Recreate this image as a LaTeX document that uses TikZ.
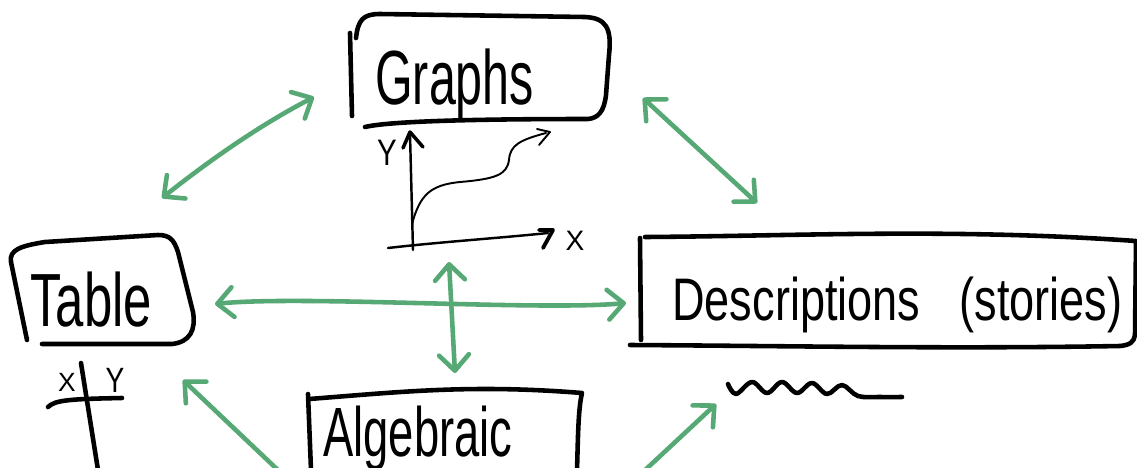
\documentclass[tikz,border=0pt]{standalone}
\usepackage{fontspec}
\usepackage{graphicx}
\setmainfont{Liberation Sans}
\usetikzlibrary{arrows.meta}
\definecolor{linkgreen}{RGB}{86,168,116}
\begin{document}
\begin{tikzpicture}[x=0.02cm,y=-0.02cm,
  ink/.style={line width=2.6pt,line cap=round,line join=round},
  thinink/.style={line width=1.4pt,line cap=round,line join=round},
  link/.style={draw=linkgreen,line width=2.6pt,line cap=round,line join=round,
    >={Straight Barb[length=9pt,width=17pt,round]}},
  word/.style={inner sep=0pt,anchor=base west},
  letter/.style={inner sep=0pt,anchor=center},
]
\useasboundingbox (0,0) rectangle (1137,467);

% ---- labels ----
\node[word] (graphs) at (375,104) {\fontsize{43.7}{50}\selectfont\scalebox{0.63}[1]{Graphs}};
\node[word] (table) at (30,326) {\fontsize{42.9}{50}\selectfont\scalebox{0.675}[1]{Table}};
\node[word] (desc) at (672,320) {\fontsize{34.2}{40}\selectfont\scalebox{0.75}[1]{Descriptions\hspace{30pt}(stories)}};
\node[word] (alg) at (323,456) {\fontsize{39.7}{46}\selectfont\scalebox{0.65}[1]{Algebraic}};

\node[letter] (gy) at (387,153) {\fontsize{21}{24}\selectfont\scalebox{0.8}[1]{Y}};
\node[letter] (gx) at (575,241) {\fontsize{16}{18}\selectfont X};
\node[letter] (tx) at (67,382) {\fontsize{15}{18}\selectfont X};
\node[letter] (ty) at (115,380) {\fontsize{20}{22}\selectfont\scalebox{0.8}[1]{Y}};

% ---- box outlines ----
% Graphs
\draw[ink] (350,33) -- (352,116);
\draw[ink] (356,38) .. controls (358,20) and (363,14) .. (380,14) -- (585,17)
  .. controls (606,18) and (612,28) .. (609,55) -- (606,95)
  .. controls (604,112) and (598,118) .. (588,119)
  .. controls (480,119) and (390,121) .. (365,127);
% Table
\draw[ink] (27,340) -- (11,262) .. controls (9,250) and (20,246) .. (45,242)
  -- (158,235) .. controls (170,235) and (174,240) .. (178,252) -- (193,312)
  .. controls (196,330) and (190,342) .. (172,344) -- (42,344);
% Descriptions
\draw[ink] (640,238) -- (641,340);
\draw[ink] (645,237) .. controls (800,236) and (950,228) .. (1136,241)
  -- (1135,335) .. controls (1134,342) and (1130,345) .. (1120,346)
  .. controls (950,349) and (800,346) .. (630,345);
% Algebraic
\draw[ink] (308,394) -- (311,470);
\draw[ink] (309,399) .. controls (400,392) and (470,384) .. (582,393)
  .. controls (578,410) and (578,440) .. (577,470);

% ---- small graph sketch ----
\draw[thinink] (413,250) -- (410,134);
\draw[line width=2pt,line cap=round,line join=round] (403,148) -- (410,132) -- (423,147);
\draw[thinink] (388,248) .. controls (440,242) and (500,238) .. (548,233);
\draw[line width=2.2pt,line cap=round,line join=round] (539,230) -- (553,230) -- (543,248);
\draw[line width=1.1pt,line cap=round] (412,224) .. controls (420,195) and (430,185) .. (460,182)
  .. controls (495,179) and (507,175) .. (509,160)
  .. controls (510,145) and (520,140) .. (546,133);
\draw[line width=1.1pt,line cap=round,line join=round] (537,129) -- (550,132) -- (539,145);

% ---- table sketch ----
\draw[ink] (48,407) .. controls (55,400) and (70,399) .. (122,398);
\draw[ink] (81,363) -- (98,470);

% ---- squiggle ----
\draw[ink] plot[smooth,tension=0.6] coordinates {(728,384) (736,394) (752,382) (767,393) (782,382)
  (797,393) (812,383) (827,394) (842,385) (858,396) (880,397) (902,397)};

% ---- green links ----
\coordinate (tg1) at (162,198);
\coordinate (tg2) at (314,97);
\coordinate (gd1) at (643,98);
\coordinate (gd2) at (757,203);
\coordinate (td1) at (215,304);
\coordinate (td2) at (626,303);
\coordinate (v1) at (449,262);
\coordinate (v2) at (455,373);
\coordinate (ta1) at (183,380);
\coordinate (ta2) at (280,472);
\coordinate (ad1) at (643,472);
\coordinate (ad2) at (716,404);

\draw[link,<->] (tg1) .. controls (210,160) and (260,125) .. (tg2);
\draw[link,<->] (gd1) -- (gd2);
\draw[link,<->] (td1) .. controls (300,295) and (540,311) .. (td2);
\draw[link,<->] (v1) -- (v2);
\draw[link,->] (ta2) -- (ta1);
\draw[link,->] (ad1) -- (ad2);
\end{tikzpicture}
\end{document}
